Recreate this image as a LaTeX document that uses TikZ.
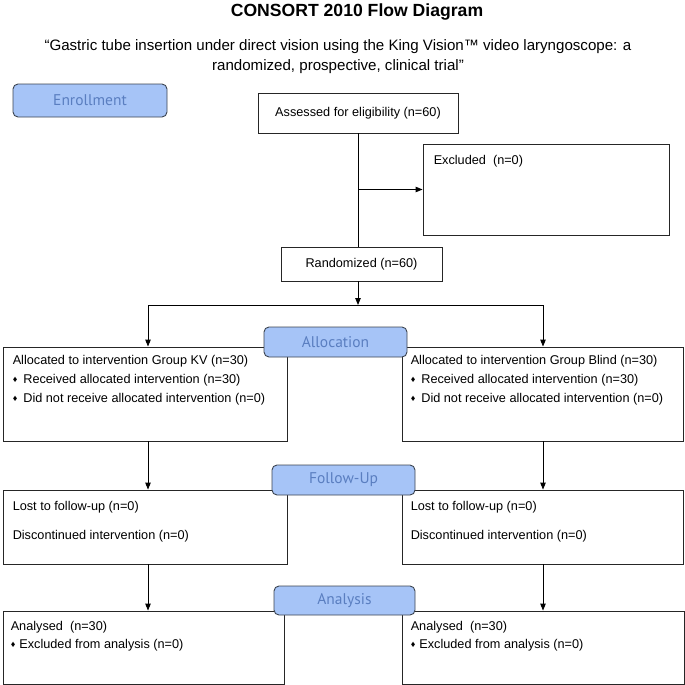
\documentclass[tikz,border=0pt]{standalone}
\usepackage{fontspec}
\setmainfont{Liberation Sans}
\newfontfamily\labfont{PT Sans}
\usetikzlibrary{arrows.meta,calc}
\definecolor{labfill}{HTML}{A6C4F7}
\definecolor{labtext}{HTML}{5A7EC0}
\definecolor{labline}{HTML}{3C4450}
\newcommand\bul[1]{{\fontsize{9}{9}\selectfont\raisebox{1.2pt}{♦}}\hspace{#1}}
\begin{document}
\begin{tikzpicture}[x=1pt,y=-1pt,
  box/.style={draw=black!85, line width=0.9pt, inner sep=0pt, fill=white, font=\fontsize{12.7}{15}\selectfont},
  phase/.style={draw=labline, line width=0.9pt, fill=labfill, rounded corners=5pt, inner sep=0pt, font=\labfont\fontsize{15.5}{18}\selectfont, text=labtext},
  txt/.style={inner sep=0pt, anchor=west, font=\fontsize{12.7}{15}\selectfont},
  arr/.style={-{Triangle[length=7pt,width=5.5pt]}, line width=0.9pt},
  conn/.style={line width=0.9pt}]
\useasboundingbox (0,0) rectangle (685,685);

% titles
\node[inner sep=0pt, font=\bfseries\fontsize{17.6}{20}\selectfont] (title) at (357,12) {CONSORT 2010 Flow Diagram};
\node[inner sep=0pt, align=center, font=\fontsize{15.1}{20}\selectfont] (sub) at (338,57) {“Gastric tube insertion under direct vision using the King Vision™ video laryngoscope: a\\randomized, prospective, clinical trial”};

% boxes
\node[box, minimum width=200, minimum height=40] (assess) at (358,113) {Assessed for eligibility (n=60)};
\node[box, minimum width=246, minimum height=91] (excl) at (546,189.5) {};
\node[box, minimum width=161, minimum height=34] (rand) at (361.5,264) {Randomized (n=60)};
\node[box, minimum width=284, minimum height=94] (la) at (145,394) {};
\node[box, minimum width=281, minimum height=94] (ra) at (542.5,394) {};
\node[box, minimum width=284, minimum height=74] (lf) at (145,527) {};
\node[box, minimum width=281, minimum height=74] (rf) at (542.5,527) {};
\node[box, minimum width=281, minimum height=73] (lan) at (143.5,647.5) {};
\node[box, minimum width=282, minimum height=73] (ran) at (543,647.5) {};

% box texts
\node[txt] (exclt) at ($(excl.north west)+(11,18)$) {Excluded\ \ (n=0)};
\node[txt] (la1) at ($(la.north west)+(10,15)$) {Allocated to intervention Group KV (n=30)};
\node[txt] (la2) at ($(la.north west)+(10,34)$) {\bul{6pt}Received allocated intervention (n=30)};
\node[txt] (la3) at ($(la.north west)+(10,53)$) {\bul{6pt}Did not receive allocated intervention (n=0)};
\node[txt] (ra1) at ($(ra.north west)+(9,15)$) {Allocated to intervention Group Blind (n=30)};
\node[txt] (ra2) at ($(ra.north west)+(9,34)$) {\bul{6pt}Received allocated intervention (n=30)};
\node[txt] (ra3) at ($(ra.north west)+(9,53)$) {\bul{6pt}Did not receive allocated intervention (n=0)};
\node[txt] (lf1) at ($(lf.north west)+(10,18)$) {Lost to follow-up (n=0)};
\node[txt] (lf2) at ($(lf.north west)+(10,47)$) {Discontinued intervention (n=0)};
\node[txt] (rf1) at ($(rf.north west)+(9,18)$) {Lost to follow-up (n=0)};
\node[txt] (rf2) at ($(rf.north west)+(9,47)$) {Discontinued intervention (n=0)};
\node[txt] (lan1) at ($(lan.north west)+(8,17)$) {Analysed\ \ (n=30)};
\node[txt] (lan2) at ($(lan.north west)+(8,35)$) {\bul{4pt}Excluded from analysis (n=0)};
\node[txt] (ran1) at ($(ran.north west)+(9,17)$) {Analysed\ \ (n=30)};
\node[txt] (ran2) at ($(ran.north west)+(9,35)$) {\bul{4pt}Excluded from analysis (n=0)};

% connectors
\coordinate (split) at (358,305);
\coordinate (sl) at (148,305);
\coordinate (sr) at (543,305);
\draw[conn] (assess.south) -- (assess.south |- rand.north);
\draw[arr] (assess.south |- excl.west) -- (excl.west);
\draw[arr] (rand.south -| split) -- (split);
\draw[conn] (sl) -- (sr);
\draw[arr] (sl) -- (sl |- la.north);
\draw[arr] (sr) -- (sr |- ra.north);
\draw[arr] (la.south -| sl) -- (sl |- lf.north);
\draw[arr] (ra.south -| sr) -- (sr |- rf.north);
\draw[arr] (lf.south -| sl) -- (sl |- lan.north);
\draw[arr] (rf.south -| sr) -- (sr |- ran.north);

% phase labels
\node[phase, minimum width=154, minimum height=33] (enr) at (90,100.5) {Enrollment};
\node[phase, minimum width=143, minimum height=30] (alloc) at (335.5,342) {Allocation};
\node[phase, minimum width=143, minimum height=30] (fu) at (343.5,480) {Follow-Up};
\node[phase, minimum width=141, minimum height=29] (ana) at (344.5,600.5) {Analysis};
\end{tikzpicture}
\end{document}
